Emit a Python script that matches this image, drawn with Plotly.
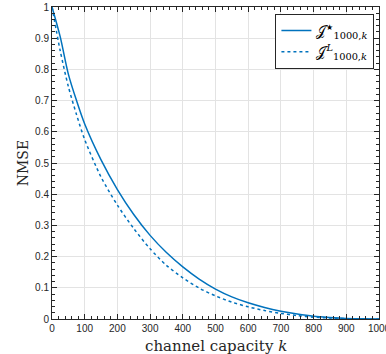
import plotly.graph_objects as go

k_vals = [0, 25, 50, 75, 100, 150, 200, 250, 300, 350, 400, 450, 500, 550, 600,
          650, 700, 750, 800, 850, 900, 950, 1000]
nmse_star = [1.0, 0.905, 0.785, 0.70, 0.625, 0.51, 0.415, 0.335, 0.268, 0.213,
             0.167, 0.128, 0.096, 0.071, 0.052, 0.037, 0.025, 0.016, 0.009,
             0.005, 0.002, 0.0005, 0.0]
nmse_L = [1.0, 0.86, 0.745, 0.655, 0.575, 0.455, 0.365, 0.29, 0.225, 0.172,
          0.132, 0.099, 0.074, 0.054, 0.039, 0.027, 0.018, 0.011, 0.006,
          0.003, 0.001, 0.0003, 0.0]
x_ticks = [0, 100, 200, 300, 400, 500, 600, 700, 800, 900, 1000]
y_ticks = [0, 0.1, 0.2, 0.3, 0.4, 0.5, 0.6, 0.7, 0.8, 0.9, 1]

blue = "#0072BD"
axc = "#262626"
serif = "DejaVu Serif, Liberation Serif, serif"

fig = go.Figure()
fig.add_trace(go.Scatter(
    x=k_vals, y=nmse_star, mode="lines", line=dict(color=blue, width=1.5, shape="spline", smoothing=0.8),
    name="𝒥<sup><span style=\"font-size:8px\">★</span></sup><sub>1000,<i>k</i></sub>"))
fig.add_trace(go.Scatter(
    x=k_vals, y=nmse_L, mode="lines", line=dict(color=blue, width=1.5, dash="dot", shape="spline", smoothing=0.8),
    name="𝒥<sup><i>L</i></sup><sub>1000,<i>k</i></sub>"))

axis_common = dict(
    showline=True, linecolor=axc, linewidth=1, mirror="ticks",
    ticks="inside", ticklen=5, tickcolor=axc, tickwidth=1,
    showgrid=True, gridcolor="#e3e3e3", gridwidth=1,
    zeroline=False, automargin=False, ticklabeloverflow="allow",
    tickfont=dict(family="Liberation Sans, Arial, sans-serif", size=10, color=axc),
)

fig.update_xaxes(
    range=[0, 1000], tickvals=x_ticks, ticktext=[str(v) for v in x_ticks],
    minor=dict(dtick=20, ticks="inside", ticklen=3, tickcolor=axc, showgrid=False),
    **axis_common)
fig.update_yaxes(
    range=[0, 1], tickvals=y_ticks, ticktext=[("%g" % v) for v in y_ticks],
    minor=dict(dtick=0.02, ticks="inside", ticklen=3, tickcolor=axc, showgrid=False),
    **axis_common)

# axis titles placed as annotations for precise positioning
fig.add_annotation(text="channel capacity <i>k</i>", xref="paper", yref="paper",
                   x=0.5, y=-0.086, xanchor="center", yanchor="middle", showarrow=False,
                   font=dict(family=serif, size=15, color=axc))
fig.add_annotation(text="NMSE", xref="paper", yref="paper",
                   x=-0.088, y=0.5, xanchor="center", yanchor="middle", showarrow=False,
                   textangle=-90, font=dict(family=serif, size=14, color=axc))

fig.update_layout(
    width=386, height=354,
    margin=dict(l=52, r=7, t=7, b=35, pad=0),
    paper_bgcolor="white", plot_bgcolor="white",
    showlegend=True,
    legend=dict(x=0.986, y=0.978, xanchor="right", yanchor="top",
                bgcolor="white", bordercolor=axc, borderwidth=1,
                font=dict(family=serif, size=14, color="black"),
                tracegroupgap=0),
)

fig.write_html("out.html", config={"displayModeBar": False},
               post_script="document.body.style.margin='0';")
